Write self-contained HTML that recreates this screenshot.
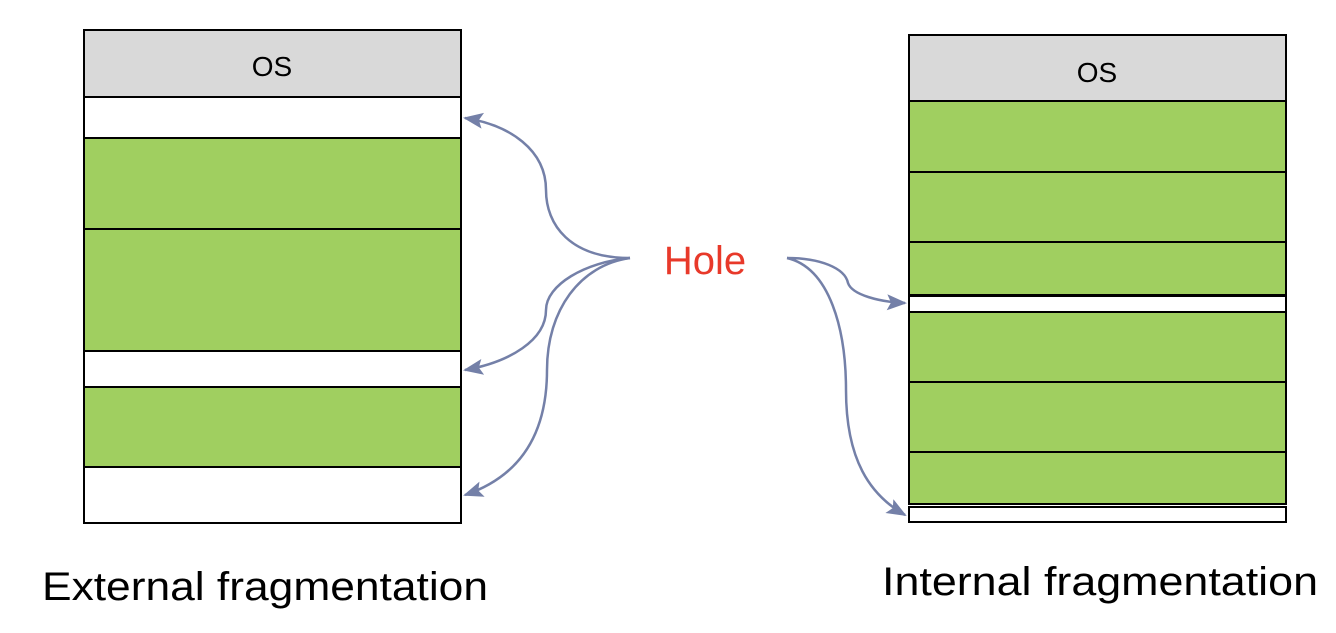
<!DOCTYPE html>
<html><head><meta charset="utf-8"><style>
html,body{margin:0;padding:0;background:#fff;}
body{width:1336px;height:628px;overflow:hidden;}
</style></head><body>
<svg width="1336" height="628" viewBox="0 0 1336 628" xmlns="http://www.w3.org/2000/svg" font-family="Liberation Sans, sans-serif">
<defs>
<marker id="ah" markerWidth="10" markerHeight="10" refX="8" refY="5" orient="auto" markerUnits="userSpaceOnUse" viewBox="0 0 10 10">
</marker>
<marker id="a" viewBox="0 0 20 20" refX="18" refY="10" markerWidth="20" markerHeight="20" orient="auto" markerUnits="userSpaceOnUse">
<path d="M0,2 L20,10 L0,18 L4,10 Z" fill="#7480a8"/>
</marker>
</defs>
<g stroke="#000" stroke-width="2">
<rect x="84" y="30" width="377" height="67" fill="#d9d9d9"/>
<rect x="84" y="97" width="377" height="41" fill="#fff"/>
<rect x="84" y="138" width="377" height="91" fill="#a0cf60"/>
<rect x="84" y="229" width="377" height="122" fill="#a0cf60"/>
<rect x="84" y="351" width="377" height="36" fill="#fff"/>
<rect x="84" y="387" width="377" height="80" fill="#a0cf60"/>
<rect x="84" y="467" width="377" height="56" fill="#fff"/>

<rect x="909" y="35" width="377" height="66" fill="#d9d9d9"/>
<rect x="909" y="101" width="377" height="71" fill="#a0cf60"/>
<rect x="909" y="172" width="377" height="70" fill="#a0cf60"/>
<rect x="909" y="242" width="377" height="53" fill="#a0cf60"/>
<rect x="909" y="296" width="377" height="16" fill="#fff"/>
<rect x="909" y="312" width="377" height="70" fill="#a0cf60"/>
<rect x="909" y="382" width="377" height="70" fill="#a0cf60"/>
<rect x="909" y="452" width="377" height="52" fill="#a0cf60"/>
<rect x="909" y="507" width="377" height="15" fill="#fff"/>
</g>
<text x="272" y="76" font-size="28" text-anchor="middle">OS</text>
<text x="1097" y="82" font-size="28" text-anchor="middle">OS</text>
<g fill="none" stroke="#7480a8" stroke-width="2.5">
<path d="M630,258 C570,258 546,225 546,190 C546,150 510,125 465,118" marker-end="url(#a)"/>
<path d="M630,258 C585,262 546,285 546,310 C546,340 510,362 465,370" marker-end="url(#a)"/>
<path d="M630,258 C580,265 547,310 547,370 C547,440 515,478 465,495" marker-end="url(#a)"/>
<path d="M787,258 C820,258 845,268 848,283 C852,295 880,302 905,303" marker-end="url(#a)"/>
<path d="M787,258 C830,268 846,330 846,390 C846,460 870,495 905,515" marker-end="url(#a)"/>
</g>
<text x="705" y="274" font-size="40" fill="#e8392a" text-anchor="middle">Hole</text>
<text x="42" y="600" font-size="40" textLength="446" lengthAdjust="spacingAndGlyphs">External fragmentation</text>
<text x="882" y="595" font-size="40" textLength="436" lengthAdjust="spacingAndGlyphs">Internal fragmentation</text>
</svg>
</body></html>
